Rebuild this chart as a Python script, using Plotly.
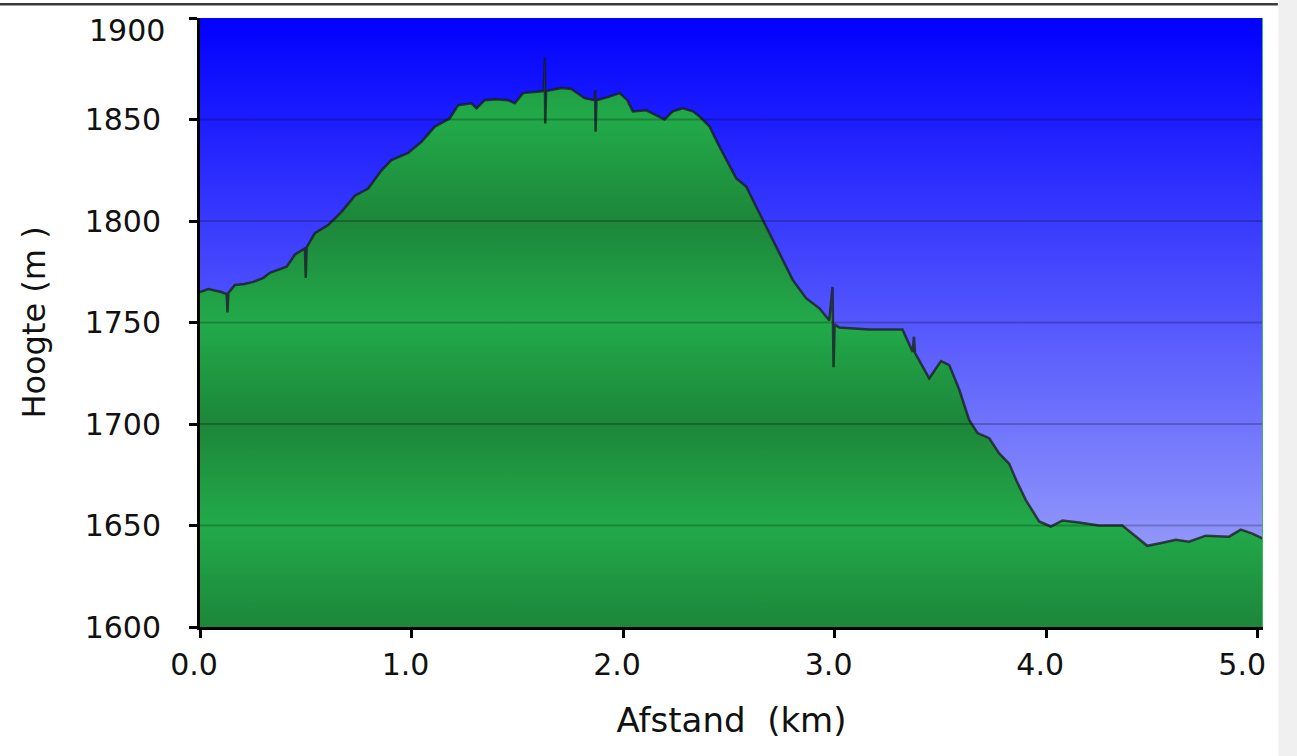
import plotly.graph_objects as go

# ---- data ----
dist_km = [0.0, 0.04, 0.10, 0.126, 0.13, 0.134, 0.165, 0.21, 0.252, 0.30, 0.33, 0.37, 0.41, 0.449,
           0.496, 0.50, 0.504, 0.543, 0.606, 0.669, 0.732, 0.795, 0.858, 0.905, 0.984, 1.047, 1.11,
           1.18, 1.22, 1.283, 1.307, 1.346, 1.40, 1.456, 1.488, 1.527, 1.58, 1.625, 1.63, 1.632,
           1.636, 1.708, 1.755, 1.818, 1.865, 1.868, 1.87, 1.874, 1.928, 1.984, 2.02, 2.046, 2.11,
           2.196, 2.235, 2.282, 2.33, 2.361, 2.409, 2.456, 2.535, 2.582, 2.62, 2.66, 2.70, 2.739,
           2.802, 2.865, 2.928, 2.975, 2.99, 2.995, 3.0, 3.022, 3.10, 3.164, 3.25, 3.321, 3.345,
           3.369, 3.375, 3.38, 3.447, 3.503, 3.542, 3.589, 3.636, 3.676, 3.731, 3.778, 3.825, 3.86,
           3.904, 3.967, 4.022, 4.077, 4.156, 4.25, 4.36, 4.408, 4.478, 4.549, 4.613, 4.675, 4.754,
           4.864, 4.92, 4.975, 5.025]
elev_m = [1765, 1766.5, 1765, 1764, 1755, 1764.5, 1768.5, 1769, 1770, 1772, 1774.5, 1776, 1777.5, 1783.5,
          1786.5, 1772, 1787, 1794, 1798, 1804.5, 1812.5, 1816, 1825, 1830, 1833.5, 1839, 1846.5,
          1850.5, 1857, 1858, 1855.5, 1859.5, 1860, 1859.5, 1858, 1863, 1863.5, 1864, 1880.5, 1848,
          1864, 1865.5, 1865, 1860.5, 1859.5, 1864.5, 1844, 1859.5, 1861, 1863, 1859.5, 1854, 1854.5,
          1850, 1854, 1855.5, 1854, 1851.5, 1846.5, 1836.5, 1821, 1817, 1809, 1800.5, 1792, 1784,
          1771, 1762, 1757, 1751, 1767.5, 1728, 1749, 1747.5, 1747, 1746.5, 1746.5, 1746.5, 1741,
          1735.5, 1743, 1735, 1722.5, 1731, 1729, 1717, 1702, 1695.5, 1693, 1685.5, 1680.5, 1672,
          1662.5, 1652, 1649.5, 1652.5, 1651.5, 1650, 1650, 1646, 1640, 1641.5, 1643, 1642, 1645,
          1644.5, 1648, 1646, 1643.5]

x_ticks = [0, 1, 2, 3, 4, 5]
x_tick_labels = ["0.0", "1.0", "2.0", "3.0", "4.0", "5.0\u00a0\u00a0"]
y_ticks = [1600, 1650, 1700, 1750, 1800, 1850, 1900]
y_tick_labels = ["1600", "1650", "1700", "1750", "1800", "1850", "1900"]

x_title = "Afstand\u00a0\u00a0(km)"
y_title = "Hoogte (m )"

# ---- styling ----
FONT = "DejaVu Sans"
FS_TICK = 30
FS_TITLE = 32
FS_XTITLE = 34
TXT = "#111111"
GREEN_LIGHT = "rgb(34,170,74)"
GREEN_DARK = "rgb(29,134,58)"
BLUE_TOP = "rgb(0,0,255)"
BLUE_BOTTOM = "rgb(168,174,250)"

y0, y1 = y_ticks[0], y_ticks[-1]
x0, x1 = 0, dist_km[-1]

# banded (triangle-wave) vertical green gradient, one band per 100 m
n = len(y_ticks) - 1
green_scale = [[i / n, GREEN_DARK if i % 2 == 0 else GREEN_LIGHT] for i in range(n + 1)]

fig = go.Figure()

# sky background gradient over the plot area
fig.add_trace(go.Scatter(
    x=[x0, x1, x1, x0, x0], y=[y0, y0, y1, y1, y0],
    mode="none", fill="toself",
    fillgradient=dict(type="vertical", colorscale=[[0, BLUE_BOTTOM], [1, BLUE_TOP]],
                      start=y0, stop=y1),
    hoverinfo="skip", showlegend=False,
))

# elevation profile
fig.add_trace(go.Scatter(
    x=dist_km, y=elev_m, mode="lines", fill="tozeroy",
    line=dict(color="rgba(25,25,25,0.75)", width=2.5),
    fillgradient=dict(type="vertical", colorscale=green_scale, start=y0, stop=y1),
    showlegend=False,
))

shapes = []
# horizontal grid lines drawn above the fill
for v in y_ticks[1:-1]:
    shapes.append(dict(type="line", xref="x", yref="y", x0=x0, x1=x1, y0=v, y1=v,
                       line=dict(color="rgba(0,0,0,0.22)", width=2), layer="above"))
# green edge at the end of the profile
shapes.append(dict(type="line", xref="x", yref="paper", x0=x1, x1=x1, y0=0, y1=1,
                   line=dict(color="rgb(60,185,95)", width=2), layer="above"))
# page chrome: top rule and right grey strip
shapes.append(dict(type="line", xref="paper", yref="paper", x0=-0.19, x1=1.014, y0=1.0225, y1=1.0225,
                   line=dict(color="#3a3a3a", width=2.5)))
shapes.append(dict(type="rect", xref="paper", yref="paper", x0=1.0145, x1=1.04, y0=-0.25, y1=1.05,
                   fillcolor="#f0f0f0", line=dict(width=0), layer="below"))

fig.update_layout(
    width=1297, height=756,
    margin=dict(l=200, r=29, t=18, b=129),
    paper_bgcolor="white", plot_bgcolor="white",
    font=dict(family=FONT, size=FS_TICK, color=TXT),
    shapes=shapes,
    showlegend=False,
    xaxis=dict(
        range=[x0, x1], tickvals=x_ticks, ticktext=x_tick_labels,
        showgrid=False, zeroline=False, showline=True, linecolor="black", linewidth=3,
        ticks="outside", ticklen=8, tickwidth=3, tickcolor="black",
        ticklabelstandoff=1, ticklabelshift=-6, layer="above traces",
        title=dict(text=x_title, standoff=28, font=dict(family=FONT, size=FS_XTITLE, color=TXT)),
    ),
    yaxis=dict(
        range=[y0, y1], tickvals=y_ticks, ticktext=y_tick_labels[:-1] + [""],
        showgrid=False, zeroline=False, showline=True, linecolor="black", linewidth=3,
        ticks="outside", ticklen=8, tickwidth=3, tickcolor="black",
        ticklabelstandoff=22, layer="above traces",
        title=dict(text=y_title, standoff=30, font=dict(family=FONT, size=FS_TITLE, color=TXT)),
    ),
    annotations=[dict(
        text=y_tick_labels[-1], xref="paper", yref="y", x=0, y=y_ticks[-1],
        xanchor="right", yanchor="middle", xshift=-33, yshift=-12, showarrow=False,
        font=dict(family=FONT, size=FS_TICK, color=TXT),
    )],
)

fig.write_html("out.html",
               config={"displayModeBar": False},
               post_script="document.body.style.margin='0';document.body.style.overflow='hidden';")
